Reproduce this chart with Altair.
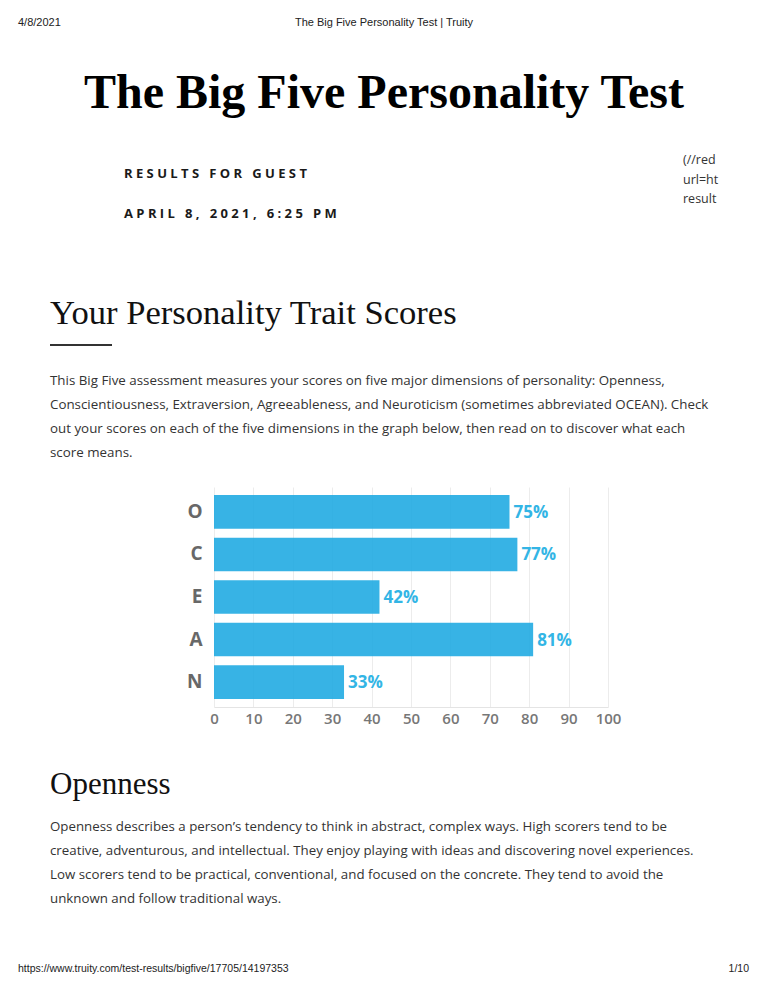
import altair as alt
import pandas as pd

# ---- data ----
traits = ["O", "C", "E", "A", "N"]
scores = [75, 77, 42, 81, 33]
x_ticks = [0, 10, 20, 30, 40, 50, 60, 70, 80, 90, 100]

# ---- page texts ----
NB = "\u00a0"


def spaced(s):
    # letter-spaced caps: one non-breaking space between letters, three between words
    return (NB * 3).join(NB.join(list(w)) for w in s.split(" "))


header_date = "4/8/2021"
header_title = "The Big Five Personality Test | Truity"
page_title = "The Big Five Personality Test"
results_for = spaced("RESULTS FOR GUEST")
results_date = spaced("APRIL 8, 2021, 6:25 PM")
side_lines = ["(//redo", "url=htt", "results"]
section_title = "Your Personality Trait Scores"
intro_lines = [
    "This Big Five assessment measures your scores on five major dimensions of personality: Openness,",
    "Conscientiousness, Extraversion, Agreeableness, and Neuroticism (sometimes abbreviated OCEAN). Check",
    "out your scores on each of the five dimensions in the graph below, then read on to discover what each",
    "score means.",
]
openness_title = "Openness"
openness_lines = [
    "Openness describes a person\u2019s tendency to think in abstract, complex ways. High scorers tend to be",
    "creative, adventurous, and intellectual. They enjoy playing with ideas and discovering novel experiences.",
    "Low scorers tend to be practical, conventional, and focused on the concrete. They tend to avoid the",
    "unknown and follow traditional ways.",
]
footer_url = "https://www.truity.com/test-results/bigfive/17705/14197353"
footer_page = "1/10"

# ---- layout (plot area inside the 768x994 page) ----
L, T, W, H = 214, 487, 394, 220
PAGE_W, PAGE_H = 768, 994

df = pd.DataFrame({"trait": traits, "score": scores,
                   "label": [f"{s}%" for s in scores]})

x_enc = alt.X("score:Q", scale=alt.Scale(domain=[0, 100], nice=False),
              axis=alt.Axis(values=x_ticks, title=None, grid=True, gridColor="#ececec",
                            ticks=False, domainColor="#e4e4e4", labelFont="Open Sans",
                            labelFontSize=15, labelFontWeight=600, labelColor="#777777",
                            labelPadding=4, labelFlush=False, labelOverlap=False))
y_enc = alt.Y("trait:N", sort=traits,
              scale=alt.Scale(paddingInner=0.21, paddingOuter=0.19),
              axis=alt.Axis(title=None, ticks=False, domain=False, labelFont="Open Sans",
                            labelFontSize=19, labelFontWeight="bold", labelColor="#686868",
                            labelPadding=12))

bars = alt.Chart(df).mark_bar(color="#1BA9E1", opacity=0.88).encode(x=x_enc, y=y_enc)
labels = alt.Chart(df).mark_text(align="left", baseline="middle", dx=4, dy=1,
                                 font="Open Sans", fontSize=17, fontWeight="bold",
                                 color="#33B5E5").encode(x=x_enc, y=y_enc, text="label:N")


def txt(s, x, y, size, color="#222222", font="Open Sans", weight="normal",
        align="left", line_height=None, **kw):
    props = dict(align=align, baseline="alphabetic", font=font, fontSize=size,
                 fontWeight=weight, color=color, **kw)
    if line_height is not None:
        props["lineBreak"] = "\n"
        props["lineHeight"] = line_height
    return alt.Chart(pd.DataFrame({"t": [s]})).mark_text(**props).encode(
        x=alt.value(x - L), y=alt.value(y - T), text="t:N")


layers = [
    txt(header_date, 18, 26, 11, font="Liberation Sans"),
    txt(header_title, 384, 26, 11, font="Liberation Sans", align="center"),
    txt(page_title, 384, 108, 48, color="#000000", font="Liberation Serif", weight="bold",
        align="center"),
    txt(results_for, 124, 178, 13, weight="bold", color="#1a1a1a"),
    txt(results_date, 124, 218, 13, weight="bold", color="#1a1a1a"),
    txt("\n".join(side_lines), 683, 164, 12.5, color="#333333", line_height=19.5,
        limit=37, ellipsis="\u200b"),
    txt(section_title, 50, 324, 34.6, color="#111111", font="Liberation Serif"),
    alt.Chart(pd.DataFrame({"a": [0]})).mark_rule(color="#333333", strokeWidth=2).encode(
        x=alt.value(50 - L), x2=alt.value(112 - L), y=alt.value(345 - T)),
    txt("\n".join(intro_lines), 50, 385, 13.35, color="#333333", line_height=24),
    bars,
    labels,
    txt(openness_title, 50, 794, 31, color="#111111", font="Liberation Serif"),
    txt("\n".join(openness_lines), 50, 831, 13.3, color="#333333", line_height=24),
    txt(footer_url, 18, 972, 10.5, font="Liberation Sans"),
    txt(footer_page, 749, 972, 10.5, font="Liberation Sans", align="right"),
]

chart = alt.layer(*layers).properties(
    width=W, height=H,
    padding={"left": L, "top": T, "right": PAGE_W - L - W, "bottom": PAGE_H - T - H},
    autosize=alt.AutoSizeParams(type="none"),
    background="white",
).configure_view(stroke=None)

chart.save("out.html", embed_options={"renderer": "svg", "actions": False})
